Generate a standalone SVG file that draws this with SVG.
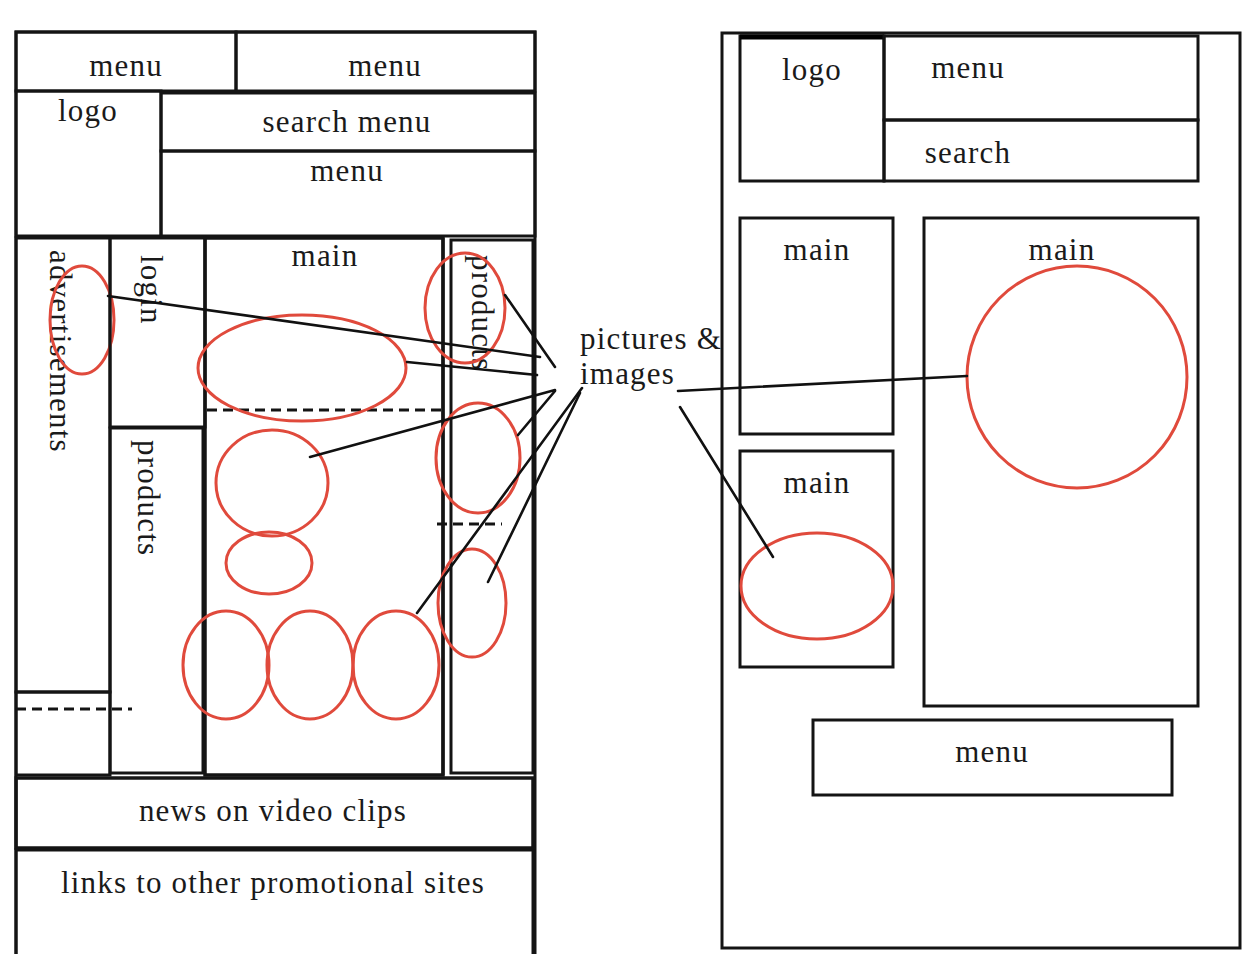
<svg xmlns="http://www.w3.org/2000/svg" width="1248" height="954" viewBox="0 0 1248 954">
  <style>
    .box { fill: none; stroke: #141414; stroke-width: 3; }
    .lbl { font-family: "Liberation Serif", "DejaVu Serif", serif; font-size: 31px; letter-spacing: 1.2px; fill: #1a1a1a; }
    .mid { text-anchor: middle; }
    .shot { fill: none; stroke: #e04a3c; stroke-width: 3; }
    .dash { stroke: #141414; stroke-width: 3; stroke-dasharray: 10 6; }
    .link { stroke: #111; stroke-width: 2.6; fill: none; stroke-linecap: round; }
  </style>
  <rect width="1248" height="954" fill="#ffffff"/>

  <!-- Left layout: full page -->
  <g id="left-frame">
    <rect class="box" x="16" y="32" width="519" height="930"/>
  </g>
  <g id="left-menu-1">
    <rect class="box" x="16" y="32" width="220" height="59"/>
    <text class="lbl mid" x="126" y="76">menu</text>
  </g>
  <g id="left-menu-2">
    <rect class="box" x="236" y="32" width="299" height="59"/>
    <text class="lbl mid" x="385" y="76">menu</text>
  </g>
  <g id="left-logo">
    <rect class="box" x="16" y="91" width="145" height="145"/>
    <text class="lbl mid" x="88" y="121">logo</text>
  </g>
  <g id="left-search-menu">
    <rect class="box" x="161" y="93" width="374" height="58"/>
    <text class="lbl mid" x="347" y="132">search menu</text>
  </g>
  <g id="left-menu-3">
    <rect class="box" x="161" y="151" width="374" height="85"/>
    <text class="lbl mid" x="347" y="181">menu</text>
  </g>
  <g id="left-advertisements">
    <rect class="box" x="16" y="238" width="94" height="454"/>
    <rect class="box" x="16" y="692" width="94" height="83"/>
    <line class="dash" x1="16" y1="709" x2="132" y2="709"/>
    <text class="lbl" transform="translate(50 250) rotate(90)">advertisements</text>
    <ellipse class="shot" cx="82" cy="320" rx="32" ry="54"/>
  </g>
  <g id="left-login">
    <rect class="box" x="110" y="238" width="95" height="189"/>
    <text class="lbl" transform="translate(141 255) rotate(90)">login</text>
  </g>
  <g id="left-products">
    <rect class="box" x="110" y="428" width="93" height="345"/>
    <text class="lbl" transform="translate(138 440) rotate(90)">products</text>
  </g>
  <g id="left-main">
    <rect class="box" x="205" y="238" width="238" height="537" style="stroke-width:3.5"/>
    <text class="lbl mid" x="325" y="266">main</text>
    <line class="dash" x1="207" y1="410" x2="443" y2="410"/>
    <ellipse class="shot" cx="302" cy="368" rx="104" ry="53"/>
    <ellipse class="shot" cx="272" cy="483" rx="56" ry="53"/>
    <ellipse class="shot" cx="269" cy="563" rx="43" ry="31"/>
    <ellipse class="shot" cx="226" cy="665" rx="43" ry="54"/>
    <ellipse class="shot" cx="310" cy="665" rx="43" ry="54"/>
    <ellipse class="shot" cx="396" cy="665" rx="43" ry="54"/>
  </g>
  <g id="left-products-right">
    <rect class="box" x="451" y="240" width="82" height="533"/>
    <line class="box" x1="443" y1="238" x2="443" y2="775"/>
    <text class="lbl" transform="translate(472 255) rotate(90)">products</text>
    <line class="dash" x1="437" y1="524" x2="502" y2="524"/>
    <ellipse class="shot" cx="465" cy="308" rx="40" ry="55"/>
    <ellipse class="shot" cx="478" cy="458" rx="42" ry="55"/>
    <ellipse class="shot" cx="472" cy="603" rx="34" ry="54"/>
  </g>
  <g id="left-news">
    <rect class="box" x="16" y="778" width="517" height="70" style="stroke-width:3.5"/>
    <text class="lbl mid" x="273" y="821">news on video clips</text>
  </g>
  <g id="left-links">
    <rect class="box" x="16" y="850" width="517" height="110"/>
    <text class="lbl mid" x="273" y="893">links to other promotional sites</text>
  </g>

  <!-- Central label -->
  <g id="label-pictures">
    <text class="lbl" x="580" y="349">pictures &amp;</text>
    <text class="lbl" x="580" y="384">images</text>
  </g>

  <!-- Right layout: simplified page -->
  <g id="right-frame">
    <rect class="box" x="722" y="33" width="518" height="915"/>
  </g>
  <g id="right-logo">
    <rect class="box" x="740" y="36" width="144" height="145"/>
    <line x1="740" y1="37" x2="884" y2="37" stroke="#000" stroke-width="5"/>
    <text class="lbl mid" x="812" y="80">logo</text>
  </g>
  <g id="right-menu-top">
    <rect class="box" x="884" y="36" width="314" height="84"/>
    <text class="lbl mid" x="968" y="78">menu</text>
  </g>
  <g id="right-search">
    <rect class="box" x="884" y="120" width="314" height="61"/>
    <text class="lbl mid" x="968" y="163">search</text>
  </g>
  <g id="right-main-1">
    <rect class="box" x="740" y="218" width="153" height="216"/>
    <text class="lbl mid" x="817" y="260">main</text>
  </g>
  <g id="right-main-big">
    <rect class="box" x="924" y="218" width="274" height="488"/>
    <text class="lbl mid" x="1062" y="260">main</text>
    <ellipse class="shot" cx="1077" cy="377" rx="110" ry="111"/>
  </g>
  <g id="right-main-2">
    <rect class="box" x="740" y="451" width="153" height="216"/>
    <text class="lbl mid" x="817" y="493">main</text>
    <ellipse class="shot" cx="817" cy="586" rx="76" ry="53"/>
  </g>
  <g id="right-menu-bottom">
    <rect class="box" x="813" y="720" width="359" height="75"/>
    <text class="lbl mid" x="992" y="762">menu</text>
  </g>

  <!-- Pointer lines from the label to the picture areas -->
  <g id="connectors">
    <line class="link" x1="108" y1="296" x2="540" y2="357"/>
    <line class="link" x1="407" y1="362" x2="537" y2="375"/>
    <line class="link" x1="505" y1="295" x2="555" y2="367"/>
    <line class="link" x1="310" y1="457" x2="555" y2="390"/>
    <line class="link" x1="518" y1="435" x2="555" y2="391"/>
    <line class="link" x1="417" y1="613" x2="582" y2="388"/>
    <line class="link" x1="488" y1="582" x2="580" y2="393"/>
    <line class="link" x1="678" y1="391" x2="967" y2="376"/>
    <line class="link" x1="680" y1="407" x2="773" y2="557"/>
  </g>
</svg>
